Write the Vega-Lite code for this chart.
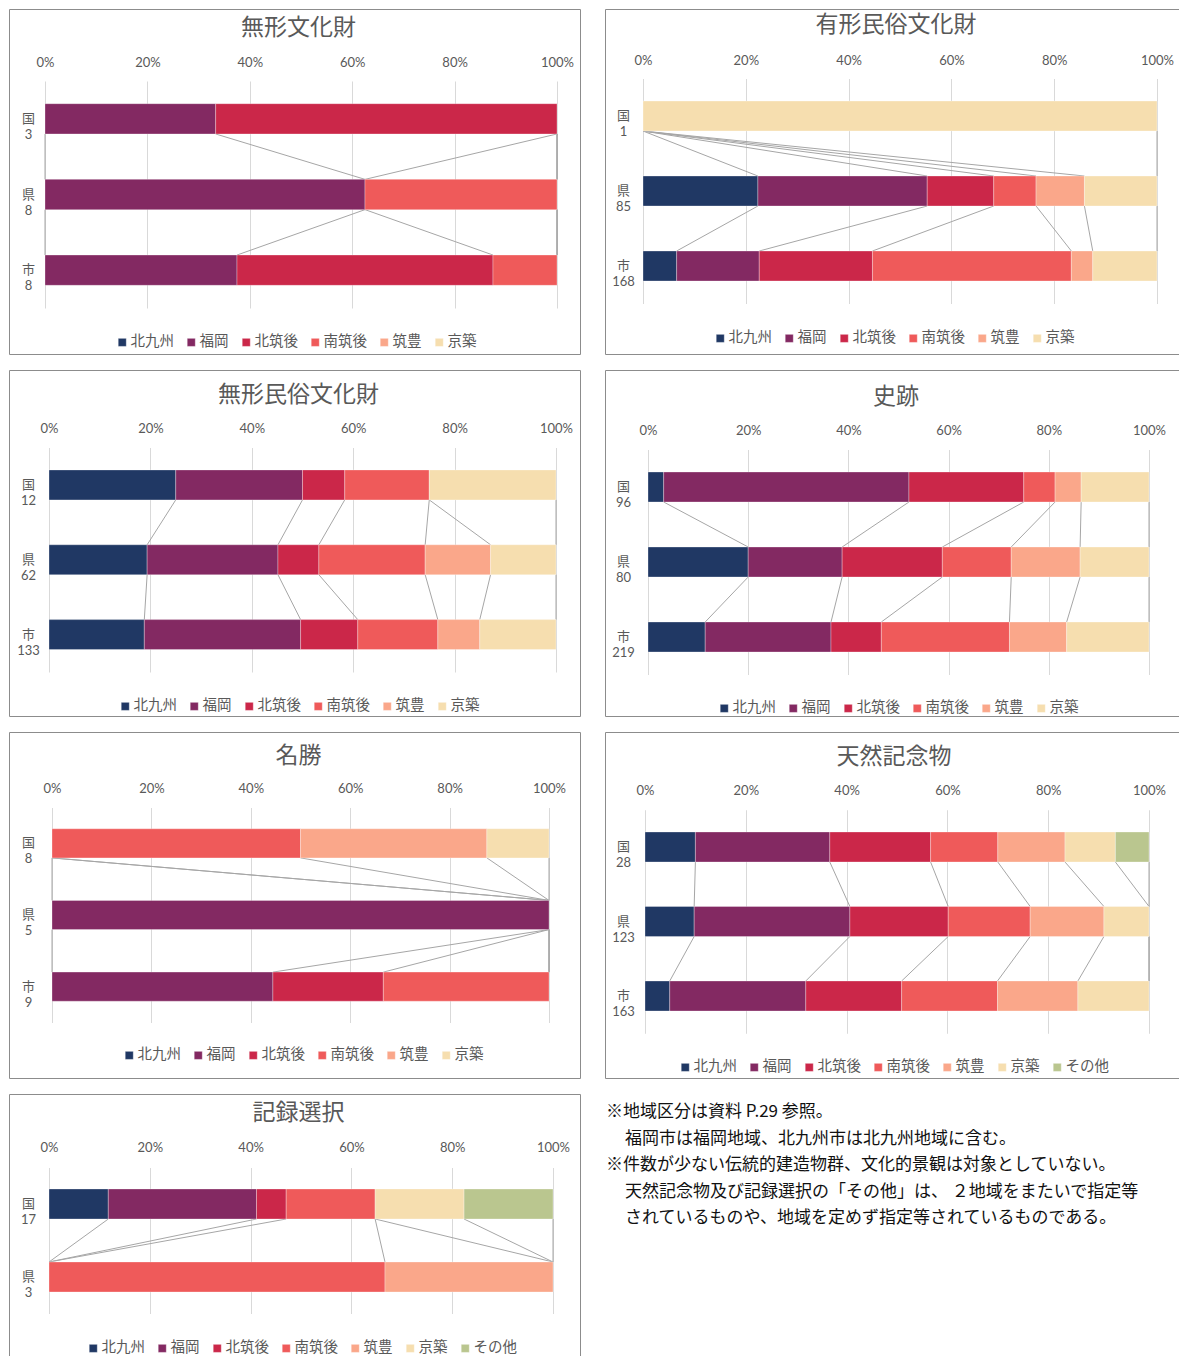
{
  "$schema": "https://vega.github.io/schema/vega-lite/v6.json",
  "padding": {"left": 8, "top": 8, "right": 0, "bottom": 0},
  "background": "white",
  "config": {
    "font": "Lato, 'Noto Sans CJK JP'",
    "view": {"stroke": "#8c8c8c", "strokeWidth": 1},
    "title": {"anchor": "middle", "frame": "group", "baseline": "middle", "fontSize": 23, "fontWeight": "normal", "color": "#595959", "font": "Noto Sans CJK JP"},
    "axis": {"labelColor": "#595959", "labelFontSize": 13, "title": null, "domain": false, "ticks": false, "tickSize": 0, "labelPadding": 0},
    "legend": {"orient": "none", "direction": "horizontal", "title": null, "symbolType": "square", "symbolSize": 64, "symbolStrokeWidth": 0, "labelFontSize": 14.5, "labelColor": "#595959", "labelOffset": 1, "columnPadding": 10, "labelFont": "Noto Sans CJK JP"},
    "rule": {"color": "#a6a6a6", "strokeWidth": 1},
    "bar": {"stroke": "#ffffff", "strokeWidth": 0.6, "strokeOpacity": 0.5}
  },
  "datasets": {
    "d1": [
      {"bar": "国 3", "bi": 0, "s": "北九州", "k": 1, "n": 0}, {"bar": "国 3", "bi": 0, "s": "福岡", "k": 2, "n": 1}, {"bar": "国 3", "bi": 0, "s": "北筑後", "k": 3, "n": 2}, {"bar": "国 3", "bi": 0, "s": "南筑後", "k": 4, "n": 0}, {"bar": "国 3", "bi": 0, "s": "筑豊", "k": 5, "n": 0}, {"bar": "国 3", "bi": 0, "s": "京築", "k": 6, "n": 0},
      {"bar": "県 8", "bi": 1, "s": "北九州", "k": 1, "n": 0}, {"bar": "県 8", "bi": 1, "s": "福岡", "k": 2, "n": 5}, {"bar": "県 8", "bi": 1, "s": "北筑後", "k": 3, "n": 0}, {"bar": "県 8", "bi": 1, "s": "南筑後", "k": 4, "n": 3}, {"bar": "県 8", "bi": 1, "s": "筑豊", "k": 5, "n": 0}, {"bar": "県 8", "bi": 1, "s": "京築", "k": 6, "n": 0},
      {"bar": "市 8", "bi": 2, "s": "北九州", "k": 1, "n": 0}, {"bar": "市 8", "bi": 2, "s": "福岡", "k": 2, "n": 3}, {"bar": "市 8", "bi": 2, "s": "北筑後", "k": 3, "n": 4}, {"bar": "市 8", "bi": 2, "s": "南筑後", "k": 4, "n": 1}, {"bar": "市 8", "bi": 2, "s": "筑豊", "k": 5, "n": 0}, {"bar": "市 8", "bi": 2, "s": "京築", "k": 6, "n": 0}
    ],
    "d2": [
      {"bar": "国 1", "bi": 0, "s": "北九州", "k": 1, "n": 0}, {"bar": "国 1", "bi": 0, "s": "福岡", "k": 2, "n": 0}, {"bar": "国 1", "bi": 0, "s": "北筑後", "k": 3, "n": 0}, {"bar": "国 1", "bi": 0, "s": "南筑後", "k": 4, "n": 0}, {"bar": "国 1", "bi": 0, "s": "筑豊", "k": 5, "n": 0}, {"bar": "国 1", "bi": 0, "s": "京築", "k": 6, "n": 1},
      {"bar": "県 85", "bi": 1, "s": "北九州", "k": 1, "n": 19}, {"bar": "県 85", "bi": 1, "s": "福岡", "k": 2, "n": 28}, {"bar": "県 85", "bi": 1, "s": "北筑後", "k": 3, "n": 11}, {"bar": "県 85", "bi": 1, "s": "南筑後", "k": 4, "n": 7}, {"bar": "県 85", "bi": 1, "s": "筑豊", "k": 5, "n": 8}, {"bar": "県 85", "bi": 1, "s": "京築", "k": 6, "n": 12},
      {"bar": "市 168", "bi": 2, "s": "北九州", "k": 1, "n": 11}, {"bar": "市 168", "bi": 2, "s": "福岡", "k": 2, "n": 27}, {"bar": "市 168", "bi": 2, "s": "北筑後", "k": 3, "n": 37}, {"bar": "市 168", "bi": 2, "s": "南筑後", "k": 4, "n": 65}, {"bar": "市 168", "bi": 2, "s": "筑豊", "k": 5, "n": 7}, {"bar": "市 168", "bi": 2, "s": "京築", "k": 6, "n": 21}
    ],
    "d3": [
      {"bar": "国 12", "bi": 0, "s": "北九州", "k": 1, "n": 3}, {"bar": "国 12", "bi": 0, "s": "福岡", "k": 2, "n": 3}, {"bar": "国 12", "bi": 0, "s": "北筑後", "k": 3, "n": 1}, {"bar": "国 12", "bi": 0, "s": "南筑後", "k": 4, "n": 2}, {"bar": "国 12", "bi": 0, "s": "筑豊", "k": 5, "n": 0}, {"bar": "国 12", "bi": 0, "s": "京築", "k": 6, "n": 3},
      {"bar": "県 62", "bi": 1, "s": "北九州", "k": 1, "n": 12}, {"bar": "県 62", "bi": 1, "s": "福岡", "k": 2, "n": 16}, {"bar": "県 62", "bi": 1, "s": "北筑後", "k": 3, "n": 5}, {"bar": "県 62", "bi": 1, "s": "南筑後", "k": 4, "n": 13}, {"bar": "県 62", "bi": 1, "s": "筑豊", "k": 5, "n": 8}, {"bar": "県 62", "bi": 1, "s": "京築", "k": 6, "n": 8},
      {"bar": "市 133", "bi": 2, "s": "北九州", "k": 1, "n": 25}, {"bar": "市 133", "bi": 2, "s": "福岡", "k": 2, "n": 41}, {"bar": "市 133", "bi": 2, "s": "北筑後", "k": 3, "n": 15}, {"bar": "市 133", "bi": 2, "s": "南筑後", "k": 4, "n": 21}, {"bar": "市 133", "bi": 2, "s": "筑豊", "k": 5, "n": 11}, {"bar": "市 133", "bi": 2, "s": "京築", "k": 6, "n": 20}
    ],
    "d4": [
      {"bar": "国 96", "bi": 0, "s": "北九州", "k": 1, "n": 3}, {"bar": "国 96", "bi": 0, "s": "福岡", "k": 2, "n": 47}, {"bar": "国 96", "bi": 0, "s": "北筑後", "k": 3, "n": 22}, {"bar": "国 96", "bi": 0, "s": "南筑後", "k": 4, "n": 6}, {"bar": "国 96", "bi": 0, "s": "筑豊", "k": 5, "n": 5}, {"bar": "国 96", "bi": 0, "s": "京築", "k": 6, "n": 13},
      {"bar": "県 80", "bi": 1, "s": "北九州", "k": 1, "n": 16}, {"bar": "県 80", "bi": 1, "s": "福岡", "k": 2, "n": 15}, {"bar": "県 80", "bi": 1, "s": "北筑後", "k": 3, "n": 16}, {"bar": "県 80", "bi": 1, "s": "南筑後", "k": 4, "n": 11}, {"bar": "県 80", "bi": 1, "s": "筑豊", "k": 5, "n": 11}, {"bar": "県 80", "bi": 1, "s": "京築", "k": 6, "n": 11},
      {"bar": "市 219", "bi": 2, "s": "北九州", "k": 1, "n": 25}, {"bar": "市 219", "bi": 2, "s": "福岡", "k": 2, "n": 55}, {"bar": "市 219", "bi": 2, "s": "北筑後", "k": 3, "n": 22}, {"bar": "市 219", "bi": 2, "s": "南筑後", "k": 4, "n": 56}, {"bar": "市 219", "bi": 2, "s": "筑豊", "k": 5, "n": 25}, {"bar": "市 219", "bi": 2, "s": "京築", "k": 6, "n": 36}
    ],
    "d5": [
      {"bar": "国 8", "bi": 0, "s": "北九州", "k": 1, "n": 0}, {"bar": "国 8", "bi": 0, "s": "福岡", "k": 2, "n": 0}, {"bar": "国 8", "bi": 0, "s": "北筑後", "k": 3, "n": 0}, {"bar": "国 8", "bi": 0, "s": "南筑後", "k": 4, "n": 4}, {"bar": "国 8", "bi": 0, "s": "筑豊", "k": 5, "n": 3}, {"bar": "国 8", "bi": 0, "s": "京築", "k": 6, "n": 1},
      {"bar": "県 5", "bi": 1, "s": "北九州", "k": 1, "n": 0}, {"bar": "県 5", "bi": 1, "s": "福岡", "k": 2, "n": 5}, {"bar": "県 5", "bi": 1, "s": "北筑後", "k": 3, "n": 0}, {"bar": "県 5", "bi": 1, "s": "南筑後", "k": 4, "n": 0}, {"bar": "県 5", "bi": 1, "s": "筑豊", "k": 5, "n": 0}, {"bar": "県 5", "bi": 1, "s": "京築", "k": 6, "n": 0},
      {"bar": "市 9", "bi": 2, "s": "北九州", "k": 1, "n": 0}, {"bar": "市 9", "bi": 2, "s": "福岡", "k": 2, "n": 4}, {"bar": "市 9", "bi": 2, "s": "北筑後", "k": 3, "n": 2}, {"bar": "市 9", "bi": 2, "s": "南筑後", "k": 4, "n": 3}, {"bar": "市 9", "bi": 2, "s": "筑豊", "k": 5, "n": 0}, {"bar": "市 9", "bi": 2, "s": "京築", "k": 6, "n": 0}
    ],
    "d6": [
      {"bar": "国 28", "bi": 0, "s": "北九州", "k": 1, "n": 3}, {"bar": "国 28", "bi": 0, "s": "福岡", "k": 2, "n": 8}, {"bar": "国 28", "bi": 0, "s": "北筑後", "k": 3, "n": 6}, {"bar": "国 28", "bi": 0, "s": "南筑後", "k": 4, "n": 4}, {"bar": "国 28", "bi": 0, "s": "筑豊", "k": 5, "n": 4}, {"bar": "国 28", "bi": 0, "s": "京築", "k": 6, "n": 3}, {"bar": "国 28", "bi": 0, "s": "その他", "k": 7, "n": 2},
      {"bar": "県 123", "bi": 1, "s": "北九州", "k": 1, "n": 12}, {"bar": "県 123", "bi": 1, "s": "福岡", "k": 2, "n": 38}, {"bar": "県 123", "bi": 1, "s": "北筑後", "k": 3, "n": 24}, {"bar": "県 123", "bi": 1, "s": "南筑後", "k": 4, "n": 20}, {"bar": "県 123", "bi": 1, "s": "筑豊", "k": 5, "n": 18}, {"bar": "県 123", "bi": 1, "s": "京築", "k": 6, "n": 11}, {"bar": "県 123", "bi": 1, "s": "その他", "k": 7, "n": 0},
      {"bar": "市 163", "bi": 2, "s": "北九州", "k": 1, "n": 8}, {"bar": "市 163", "bi": 2, "s": "福岡", "k": 2, "n": 44}, {"bar": "市 163", "bi": 2, "s": "北筑後", "k": 3, "n": 31}, {"bar": "市 163", "bi": 2, "s": "南筑後", "k": 4, "n": 31}, {"bar": "市 163", "bi": 2, "s": "筑豊", "k": 5, "n": 26}, {"bar": "市 163", "bi": 2, "s": "京築", "k": 6, "n": 23}, {"bar": "市 163", "bi": 2, "s": "その他", "k": 7, "n": 0}
    ],
    "d7": [
      {"bar": "国 17", "bi": 0, "s": "北九州", "k": 1, "n": 2}, {"bar": "国 17", "bi": 0, "s": "福岡", "k": 2, "n": 5}, {"bar": "国 17", "bi": 0, "s": "北筑後", "k": 3, "n": 1}, {"bar": "国 17", "bi": 0, "s": "南筑後", "k": 4, "n": 3}, {"bar": "国 17", "bi": 0, "s": "筑豊", "k": 5, "n": 0}, {"bar": "国 17", "bi": 0, "s": "京築", "k": 6, "n": 3}, {"bar": "国 17", "bi": 0, "s": "その他", "k": 7, "n": 3},
      {"bar": "県 3", "bi": 1, "s": "北九州", "k": 1, "n": 0}, {"bar": "県 3", "bi": 1, "s": "福岡", "k": 2, "n": 0}, {"bar": "県 3", "bi": 1, "s": "北筑後", "k": 3, "n": 0}, {"bar": "県 3", "bi": 1, "s": "南筑後", "k": 4, "n": 2}, {"bar": "県 3", "bi": 1, "s": "筑豊", "k": 5, "n": 1}, {"bar": "県 3", "bi": 1, "s": "京築", "k": 6, "n": 0}, {"bar": "県 3", "bi": 1, "s": "その他", "k": 7, "n": 0}
    ],
    "note": [
      {"i": 1, "ind": 0, "t": "※地域区分は資料 P.29 参照。"},
      {"i": 2, "ind": 1, "t": "福岡市は福岡地域、北九州市は北九州地域に含む。"},
      {"i": 3, "ind": 0, "t": "※件数が少ない伝統的建造物群、文化的景観は対象としていない。"},
      {"i": 4, "ind": 1, "t": "天然記念物及び記録選択の「その他」は、 ２地域をまたいで指定等"},
      {"i": 5, "ind": 1, "t": "されているものや、地域を定めず指定等されているものである。"}
    ]
  },
  "vconcat": [
    {
      "hconcat": [
        {
          "width": 571, "height": 345,
          "title": {"text": "無形文化財", "offset": -31, "dx": 4},
          "data": {"name": "d1"},
          "transform": [{"stack": "n", "groupby": ["bar"], "sort": [{"field": "k"}], "as": ["lo", "hi"], "offset": "normalize"}],
          "encoding": {"y": {"field": "bar", "type": "nominal", "scale": {"domain": ["国 3", "県 8", "市 8"], "range": [72, 299], "paddingInner": 0.6, "paddingOuter": 0.3}, "axis": {"offset": -19, "grid": false, "labelAlign": "center", "labelBaseline": "middle", "labelLineHeight": 16, "labelExpr": "split(datum.label, ' ')"}}},
          "layer": [
            {"mark": "rule",
             "transform": [{"window": [{"op": "lead", "field": "hi", "as": "nhi"}, {"op": "lead", "field": "bar", "as": "nb"}], "groupby": ["k"], "sort": [{"field": "bi"}]}, {"filter": "datum.nb != null"}],
             "encoding": {"x": {"field": "hi", "type": "quantitative", "scale": {"domain": [0, 1], "range": [36, 548], "nice": false}, "axis": {"orient": "top", "offset": -53, "values": [0, 0.2, 0.4, 0.6, 0.8, 1], "format": ".0%", "labelFlush": false, "labelBaseline": "middle", "grid": true, "gridColor": "#d9d9d9"}}, "x2": {"field": "nhi"}, "y": {"field": "bar", "type": "nominal", "bandPosition": 1}, "y2": {"field": "nb", "bandPosition": 0}}},
            {"mark": "bar",
             "transform": [{"filter": "datum.n > 0"}],
             "encoding": {"x": {"field": "lo", "type": "quantitative"}, "x2": {"field": "hi"},
               "color": {"field": "s", "type": "nominal", "scale": {"domain": ["北九州", "福岡", "北筑後", "南筑後", "筑豊", "京築"], "range": ["#203864", "#832962", "#cb2749", "#ef5a5a", "#faa78a", "#f6deaf"]}, "legend": {"legendX": 106, "legendY": 326}}}}
          ]
        },
        {
          "width": 580, "height": 345,
          "title": {"text": "有形民俗文化財", "offset": -28, "dx": 1},
          "data": {"name": "d2"},
          "transform": [{"stack": "n", "groupby": ["bar"], "sort": [{"field": "k"}], "as": ["lo", "hi"], "offset": "normalize"}],
          "encoding": {"y": {"field": "bar", "type": "nominal", "scale": {"domain": ["国 1", "県 85", "市 168"], "range": [69.5, 294.5], "paddingInner": 0.6, "paddingOuter": 0.3}, "axis": {"offset": -18, "grid": false, "labelAlign": "center", "labelBaseline": "middle", "labelLineHeight": 16, "labelExpr": "split(datum.label, ' ')"}}},
          "layer": [
            {"mark": "rule",
             "transform": [{"window": [{"op": "lead", "field": "hi", "as": "nhi"}, {"op": "lead", "field": "bar", "as": "nb"}], "groupby": ["k"], "sort": [{"field": "bi"}]}, {"filter": "datum.nb != null"}],
             "encoding": {"x": {"field": "hi", "type": "quantitative", "scale": {"domain": [0, 1], "range": [38, 552], "nice": false}, "axis": {"orient": "top", "offset": -51, "values": [0, 0.2, 0.4, 0.6, 0.8, 1], "format": ".0%", "labelFlush": false, "labelBaseline": "middle", "grid": true, "gridColor": "#d9d9d9"}}, "x2": {"field": "nhi"}, "y": {"field": "bar", "type": "nominal", "bandPosition": 1}, "y2": {"field": "nb", "bandPosition": 0}}},
            {"mark": "bar",
             "transform": [{"filter": "datum.n > 0"}],
             "encoding": {"x": {"field": "lo", "type": "quantitative"}, "x2": {"field": "hi"},
               "color": {"field": "s", "type": "nominal", "scale": {"domain": ["北九州", "福岡", "北筑後", "南筑後", "筑豊", "京築"], "range": ["#203864", "#832962", "#cb2749", "#ef5a5a", "#faa78a", "#f6deaf"]}, "legend": {"legendX": 108, "legendY": 322}}}}
          ]
        }
      ],
      "spacing": 23,
      "resolve": {"scale": {"color": "independent"}, "legend": {"color": "independent"}}
    },
    {
      "hconcat": [
        {
          "width": 571, "height": 346,
          "title": {"text": "無形民俗文化財", "offset": -37, "dx": 4},
          "data": {"name": "d3"},
          "transform": [{"stack": "n", "groupby": ["bar"], "sort": [{"field": "k"}], "as": ["lo", "hi"], "offset": "normalize"}],
          "encoding": {"y": {"field": "bar", "type": "nominal", "scale": {"domain": ["国 12", "県 62", "市 133"], "range": [77.5, 302], "paddingInner": 0.6, "paddingOuter": 0.3}, "axis": {"offset": -19, "grid": false, "labelAlign": "center", "labelBaseline": "middle", "labelLineHeight": 16, "labelExpr": "split(datum.label, ' ')"}}},
          "layer": [
            {"mark": "rule",
             "transform": [{"window": [{"op": "lead", "field": "hi", "as": "nhi"}, {"op": "lead", "field": "bar", "as": "nb"}], "groupby": ["k"], "sort": [{"field": "bi"}]}, {"filter": "datum.nb != null"}],
             "encoding": {"x": {"field": "hi", "type": "quantitative", "scale": {"domain": [0, 1], "range": [40, 547], "nice": false}, "axis": {"orient": "top", "offset": -58, "values": [0, 0.2, 0.4, 0.6, 0.8, 1], "format": ".0%", "labelFlush": false, "labelBaseline": "middle", "grid": true, "gridColor": "#d9d9d9"}}, "x2": {"field": "nhi"}, "y": {"field": "bar", "type": "nominal", "bandPosition": 1}, "y2": {"field": "nb", "bandPosition": 0}}},
            {"mark": "bar",
             "transform": [{"filter": "datum.n > 0"}],
             "encoding": {"x": {"field": "lo", "type": "quantitative"}, "x2": {"field": "hi"},
               "color": {"field": "s", "type": "nominal", "scale": {"domain": ["北九州", "福岡", "北筑後", "南筑後", "筑豊", "京築"], "range": ["#203864", "#832962", "#cb2749", "#ef5a5a", "#faa78a", "#f6deaf"]}, "legend": {"legendX": 109, "legendY": 329}}}}
          ]
        },
        {
          "width": 580, "height": 346,
          "title": {"text": "史跡", "offset": -39, "dx": 1},
          "data": {"name": "d4"},
          "transform": [{"stack": "n", "groupby": ["bar"], "sort": [{"field": "k"}], "as": ["lo", "hi"], "offset": "normalize"}],
          "encoding": {"y": {"field": "bar", "type": "nominal", "scale": {"domain": ["国 96", "県 80", "市 219"], "range": [79.5, 304.5], "paddingInner": 0.6, "paddingOuter": 0.3}, "axis": {"offset": -18, "grid": false, "labelAlign": "center", "labelBaseline": "middle", "labelLineHeight": 16, "labelExpr": "split(datum.label, ' ')"}}},
          "layer": [
            {"mark": "rule",
             "transform": [{"window": [{"op": "lead", "field": "hi", "as": "nhi"}, {"op": "lead", "field": "bar", "as": "nb"}], "groupby": ["k"], "sort": [{"field": "bi"}]}, {"filter": "datum.nb != null"}],
             "encoding": {"x": {"field": "hi", "type": "quantitative", "scale": {"domain": [0, 1], "range": [43, 544], "nice": false}, "axis": {"orient": "top", "offset": -60, "values": [0, 0.2, 0.4, 0.6, 0.8, 1], "format": ".0%", "labelFlush": false, "labelBaseline": "middle", "grid": true, "gridColor": "#d9d9d9"}}, "x2": {"field": "nhi"}, "y": {"field": "bar", "type": "nominal", "bandPosition": 1}, "y2": {"field": "nb", "bandPosition": 0}}},
            {"mark": "bar",
             "transform": [{"filter": "datum.n > 0"}],
             "encoding": {"x": {"field": "lo", "type": "quantitative"}, "x2": {"field": "hi"},
               "color": {"field": "s", "type": "nominal", "scale": {"domain": ["北九州", "福岡", "北筑後", "南筑後", "筑豊", "京築"], "range": ["#203864", "#832962", "#cb2749", "#ef5a5a", "#faa78a", "#f6deaf"]}, "legend": {"legendX": 112, "legendY": 331}}}}
          ]
        }
      ],
      "spacing": 23,
      "resolve": {"scale": {"color": "independent"}, "legend": {"color": "independent"}}
    },
    {
      "hconcat": [
        {
          "width": 571, "height": 346,
          "title": {"text": "名勝", "offset": -36, "dx": 4},
          "data": {"name": "d5"},
          "transform": [{"stack": "n", "groupby": ["bar"], "sort": [{"field": "k"}], "as": ["lo", "hi"], "offset": "normalize"}],
          "encoding": {"y": {"field": "bar", "type": "nominal", "scale": {"domain": ["国 8", "県 5", "市 9"], "range": [75.5, 290.5], "paddingInner": 0.594, "paddingOuter": 0.297}, "axis": {"offset": -19, "grid": false, "labelAlign": "center", "labelBaseline": "middle", "labelLineHeight": 16, "labelExpr": "split(datum.label, ' ')"}}},
          "layer": [
            {"mark": "rule",
             "transform": [{"window": [{"op": "lead", "field": "hi", "as": "nhi"}, {"op": "lead", "field": "bar", "as": "nb"}], "groupby": ["k"], "sort": [{"field": "bi"}]}, {"filter": "datum.nb != null"}],
             "encoding": {"x": {"field": "hi", "type": "quantitative", "scale": {"domain": [0, 1], "range": [43, 540], "nice": false}, "axis": {"orient": "top", "offset": -56, "values": [0, 0.2, 0.4, 0.6, 0.8, 1], "format": ".0%", "labelFlush": false, "labelBaseline": "middle", "grid": true, "gridColor": "#d9d9d9"}}, "x2": {"field": "nhi"}, "y": {"field": "bar", "type": "nominal", "bandPosition": 1}, "y2": {"field": "nb", "bandPosition": 0}}},
            {"mark": "bar",
             "transform": [{"filter": "datum.n > 0"}],
             "encoding": {"x": {"field": "lo", "type": "quantitative"}, "x2": {"field": "hi"},
               "color": {"field": "s", "type": "nominal", "scale": {"domain": ["北九州", "福岡", "北筑後", "南筑後", "筑豊", "京築"], "range": ["#203864", "#832962", "#cb2749", "#ef5a5a", "#faa78a", "#f6deaf"]}, "legend": {"legendX": 113, "legendY": 316}}}}
          ]
        },
        {
          "width": 580, "height": 346,
          "title": {"text": "天然記念物", "offset": -37, "dx": -1},
          "data": {"name": "d6"},
          "transform": [{"stack": "n", "groupby": ["bar"], "sort": [{"field": "k"}], "as": ["lo", "hi"], "offset": "normalize"}],
          "encoding": {"y": {"field": "bar", "type": "nominal", "scale": {"domain": ["国 28", "県 123", "市 163"], "range": [77.75, 301.25], "paddingInner": 0.597, "paddingOuter": 0.2985}, "axis": {"offset": -18, "grid": false, "labelAlign": "center", "labelBaseline": "middle", "labelLineHeight": 16, "labelExpr": "split(datum.label, ' ')"}}},
          "layer": [
            {"mark": "rule",
             "transform": [{"window": [{"op": "lead", "field": "hi", "as": "nhi"}, {"op": "lead", "field": "bar", "as": "nb"}], "groupby": ["k"], "sort": [{"field": "bi"}]}, {"filter": "datum.nb != null"}],
             "encoding": {"x": {"field": "hi", "type": "quantitative", "scale": {"domain": [0, 1], "range": [40, 544], "nice": false}, "axis": {"orient": "top", "offset": -58, "values": [0, 0.2, 0.4, 0.6, 0.8, 1], "format": ".0%", "labelFlush": false, "labelBaseline": "middle", "grid": true, "gridColor": "#d9d9d9"}}, "x2": {"field": "nhi"}, "y": {"field": "bar", "type": "nominal", "bandPosition": 1}, "y2": {"field": "nb", "bandPosition": 0}}},
            {"mark": "bar",
             "transform": [{"filter": "datum.n > 0"}],
             "encoding": {"x": {"field": "lo", "type": "quantitative"}, "x2": {"field": "hi"},
               "color": {"field": "s", "type": "nominal", "scale": {"domain": ["北九州", "福岡", "北筑後", "南筑後", "筑豊", "京築", "その他"], "range": ["#203864", "#832962", "#cb2749", "#ef5a5a", "#faa78a", "#f6deaf", "#bac68f"]}, "legend": {"legendX": 73, "legendY": 328}}}}
          ]
        }
      ],
      "spacing": 23,
      "resolve": {"scale": {"color": "independent"}, "legend": {"color": "independent"}}
    },
    {
      "hconcat": [
        {
          "width": 571, "height": 262,
          "title": {"text": "記録選択", "offset": -31, "dx": 4},
          "data": {"name": "d7"},
          "transform": [{"stack": "n", "groupby": ["bar"], "sort": [{"field": "k"}], "as": ["lo", "hi"], "offset": "normalize"}],
          "encoding": {"y": {"field": "bar", "type": "nominal", "scale": {"domain": ["国 17", "県 3"], "range": [73.5, 219.5], "paddingInner": 0.589, "paddingOuter": 0.2945}, "axis": {"offset": -19, "grid": false, "labelAlign": "center", "labelBaseline": "middle", "labelLineHeight": 16, "labelExpr": "split(datum.label, ' ')"}}},
          "layer": [
            {"mark": "rule",
             "transform": [{"window": [{"op": "lead", "field": "hi", "as": "nhi"}, {"op": "lead", "field": "bar", "as": "nb"}], "groupby": ["k"], "sort": [{"field": "bi"}]}, {"filter": "datum.nb != null"}],
             "encoding": {"x": {"field": "hi", "type": "quantitative", "scale": {"domain": [0, 1], "range": [40, 544], "nice": false}, "axis": {"orient": "top", "offset": -53, "values": [0, 0.2, 0.4, 0.6, 0.8, 1], "format": ".0%", "labelFlush": false, "labelBaseline": "middle", "grid": true, "gridColor": "#d9d9d9"}}, "x2": {"field": "nhi"}, "y": {"field": "bar", "type": "nominal", "bandPosition": 1}, "y2": {"field": "nb", "bandPosition": 0}}},
            {"mark": "bar",
             "transform": [{"filter": "datum.n > 0"}],
             "encoding": {"x": {"field": "lo", "type": "quantitative"}, "x2": {"field": "hi"},
               "color": {"field": "s", "type": "nominal", "scale": {"domain": ["北九州", "福岡", "北筑後", "南筑後", "筑豊", "京築", "その他"], "range": ["#203864", "#832962", "#cb2749", "#ef5a5a", "#faa78a", "#f6deaf", "#bac68f"]}, "legend": {"legendX": 77, "legendY": 247}}}}
          ]
        },
        {
          "width": 10, "height": 262,
          "view": {"stroke": null},
          "data": {"name": "note"},
          "mark": {"type": "text", "align": "left", "baseline": "middle", "fontSize": 17, "color": "#111111", "font": "Noto Sans CJK JP"},
          "encoding": {
            "x": {"field": "ind", "type": "ordinal", "scale": {"type": "point", "domain": [0, 1], "range": [2, 21], "padding": 0}, "axis": null},
            "y": {"field": "i", "type": "ordinal", "scale": {"type": "point", "range": [18, 124], "padding": 0}, "axis": null},
            "text": {"field": "t"}
          }
        }
      ],
      "spacing": 23,
      "resolve": {"scale": {"color": "independent"}, "legend": {"color": "independent"}}
    }
  ],
  "spacing": 14,
  "resolve": {"scale": {"color": "independent"}, "legend": {"color": "independent"}}
}
